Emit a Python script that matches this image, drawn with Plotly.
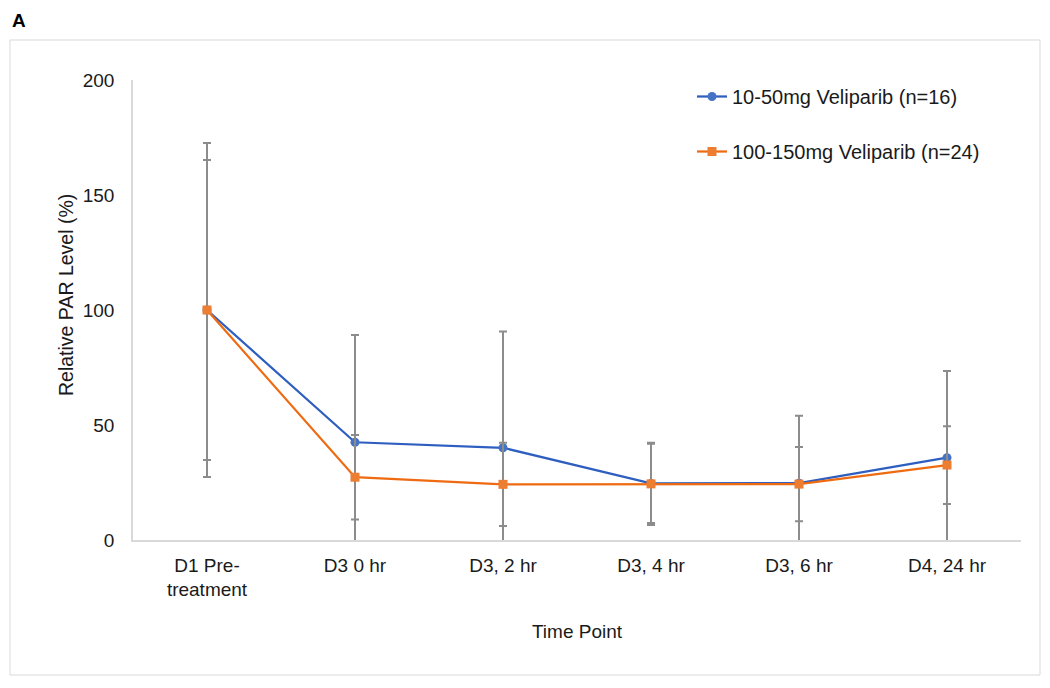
import plotly.graph_objects as go

categories = ["D1 Pre-<br>treatment", "D3 0 hr", "D3, 2 hr", "D3, 4 hr", "D3, 6 hr", "D4, 24 hr"]
low_name = "10-50mg Veliparib (n=16)"
low_vals = [100, 42.5, 40.1, 24.6, 24.7, 35.8]
low_err = [72.6, 46.6, 50.5, 17.2, 29.3, 37.7]
high_name = "100-150mg Veliparib (n=24)"
high_vals = [100, 27.3, 24.2, 24.4, 24.3, 32.6]
high_err = [65.2, 18.4, 18.1, 17.9, 16.1, 16.9]
y_title = "Relative PAR Level (%)"
x_title = "Time Point"
panel_label = "A"

OFF = 8  # page body margin offset
W, H = 1050, 688
L, T = 133 - OFF, 80 - OFF
pw, ph = 888, 460
R = W - L - pw
B = H - T - ph

def px(x):
    return (x - OFF - L) / pw

def py(y):
    return (T + ph - (y - OFF)) / ph

fig = go.Figure()
err_style = dict(type="data", visible=True, color="#8c8c8c", thickness=2, width=4)
fig.add_trace(go.Scatter(
    x=categories, y=low_vals, name=low_name, mode="lines+markers",
    line=dict(color="#2E5EBF", width=2.25),
    marker=dict(symbol="circle", size=9, color="#4472C4"),
    error_y=dict(array=low_err, **err_style),
    legendgroup="a",
))
fig.add_trace(go.Scatter(
    x=categories, y=high_vals, name=high_name, mode="lines+markers",
    line=dict(color="#EE6B12", width=2.25),
    marker=dict(symbol="square", size=9, color="#ED7D31"),
    error_y=dict(array=high_err, **err_style),
    legendgroup="b",
))

fig.update_layout(
    width=W, height=H,
    margin=dict(l=L, r=R, t=T, b=B),
    paper_bgcolor="white", plot_bgcolor="white",
    font=dict(family="Liberation Sans, Arial, sans-serif", size=19, color="#1a1a1a"),
    showlegend=True,
    legend=dict(x=px(692), y=py(77), xanchor="left", yanchor="top",
                bgcolor="rgba(0,0,0,0)", tracegroupgap=26,
                font=dict(size=20, color="#1a1a1a")),
    xaxis=dict(
        type="category", range=[-0.5, 5.5], showgrid=False,
        showline=True, linecolor="#d9d9d9", linewidth=1.5,
        ticks="", ticklabelstandoff=7,
        title=dict(text=x_title, standoff=25, font=dict(size=19)),
        tickfont=dict(size=19),
    ),
    yaxis=dict(
        range=[0, 200], tickvals=[0, 50, 100, 150, 200], showgrid=False,
        showline=True, linecolor="#d9d9d9", linewidth=1.5, zeroline=False,
        ticks="", ticklabelstandoff=13,
        tickfont=dict(size=19),
    ),
    shapes=[dict(type="rect", xref="paper", yref="paper",
                 x0=px(10), x1=px(1040), y0=py(675), y1=py(40),
                 line=dict(color="#d9d9d9", width=1), fillcolor="rgba(0,0,0,0)", layer="below")],
    annotations=[
        dict(text="<b>" + panel_label + "</b>", xref="paper", yref="paper", x=px(11), y=py(9),
             xanchor="left", yanchor="top", showarrow=False, borderpad=0,
             font=dict(size=19, color="black")),
        dict(text=y_title, xref="paper", yref="paper", x=px(66), y=py(295),
             xanchor="center", yanchor="middle", textangle=-90, showarrow=False,
             font=dict(size=19.5, color="#1a1a1a")),
    ],
)

fig.write_html("out.html")
